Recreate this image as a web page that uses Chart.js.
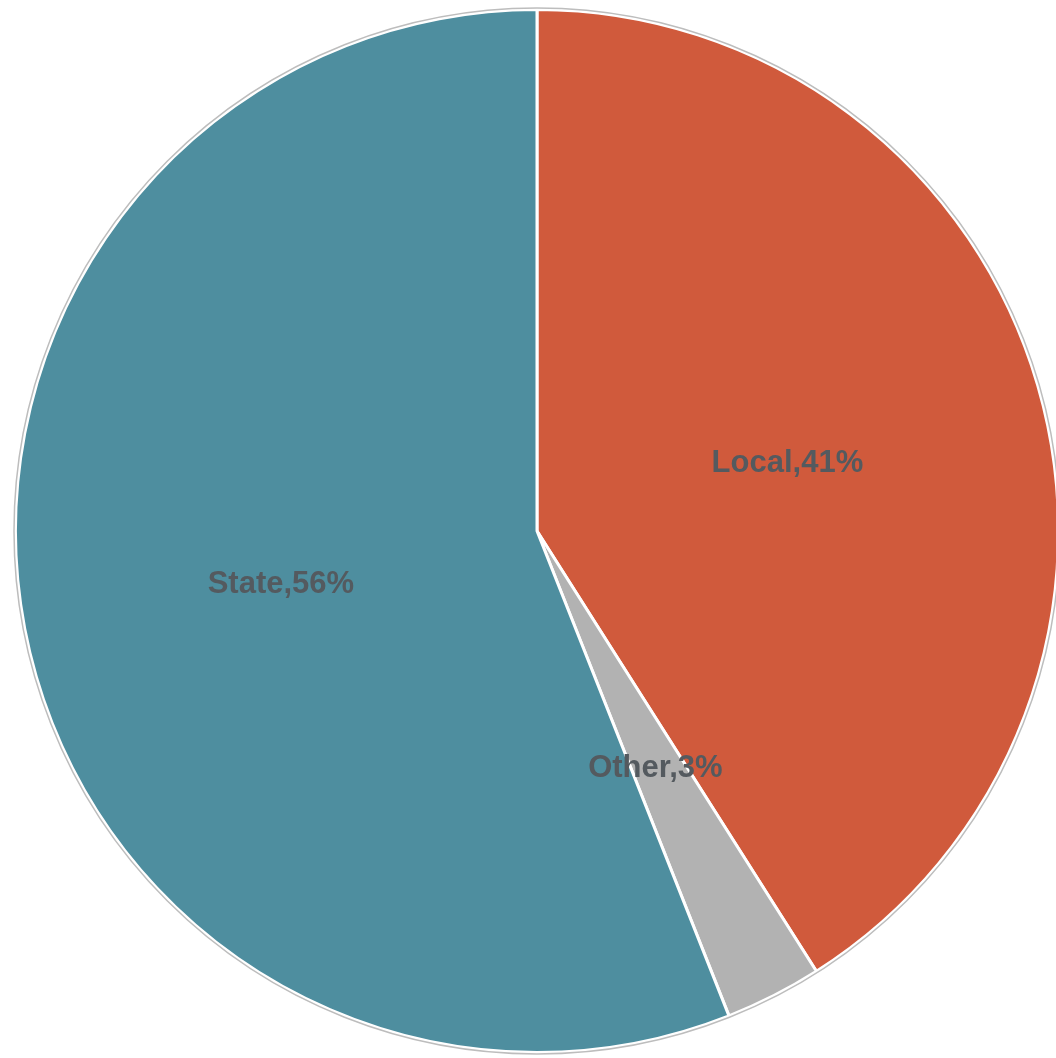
<!DOCTYPE html>
<html lang="en">
<head>
    <meta charset="UTF-8">
    <title>Revenue share</title>
    <script src="https://cdn.jsdelivr.net/npm/chart.js"></script>
    <style>
        body {
            margin: 0;
            padding: 0;
            background: #fff;
            overflow: hidden;
        }

        .chart-box {
            width: 1080px;
            height: 1058px;
        }
    </style>
</head>
<body>
    <div class="chart-box">
        <canvas id="shareChart"></canvas>
    </div>

    <script>
        // data, clockwise from the top
        const labels = ['Local', 'Other', 'State'];
        const shares = [41, 3, 56];
        const colors = ['#D05A3C', '#B2B2B2', '#4E8E9F'];

        // gray ring round the pie + "Name,NN%" labels in the middle of each slice
        const pieExtras = {
            id: 'pieExtras',
            afterDatasetsDraw(chart) {
                const ctx = chart.ctx;
                const arcs = chart.getDatasetMeta(0).data;
                const a = arcs[0];

                ctx.save();
                ctx.beginPath();
                ctx.arc(a.x, a.y, a.outerRadius + 1.5, 0, Math.PI * 2);
                ctx.strokeStyle = '#BDBDBD';
                ctx.lineWidth = 1.5;
                ctx.stroke();

                ctx.font = 'bold 31px "Liberation Sans", Arial, sans-serif';
                ctx.fillStyle = '#545a5f';
                ctx.textAlign = 'center';
                ctx.textBaseline = 'middle';
                arcs.forEach((arc, i) => {
                    const p = arc.tooltipPosition();
                    ctx.fillText(labels[i] + ',' + shares[i] + '%', p.x, p.y + 5);
                });
                ctx.restore();
            }
        };

        new Chart(document.getElementById('shareChart'), {
            type: 'pie',
            data: {
                labels: labels,
                datasets: [{
                    data: shares,
                    backgroundColor: colors,
                    borderColor: '#fff',
                    borderWidth: 3,
                    hoverOffset: 0
                }]
            },
            options: {
                responsive: true,
                maintainAspectRatio: false,
                animation: false,
                layout: { padding: { left: 14, right: 20, top: 8, bottom: 4 } },
                plugins: {
                    legend: { display: false },
                    tooltip: { enabled: false }
                }
            },
            plugins: [pieExtras]
        });
    </script>
</body>
</html>
